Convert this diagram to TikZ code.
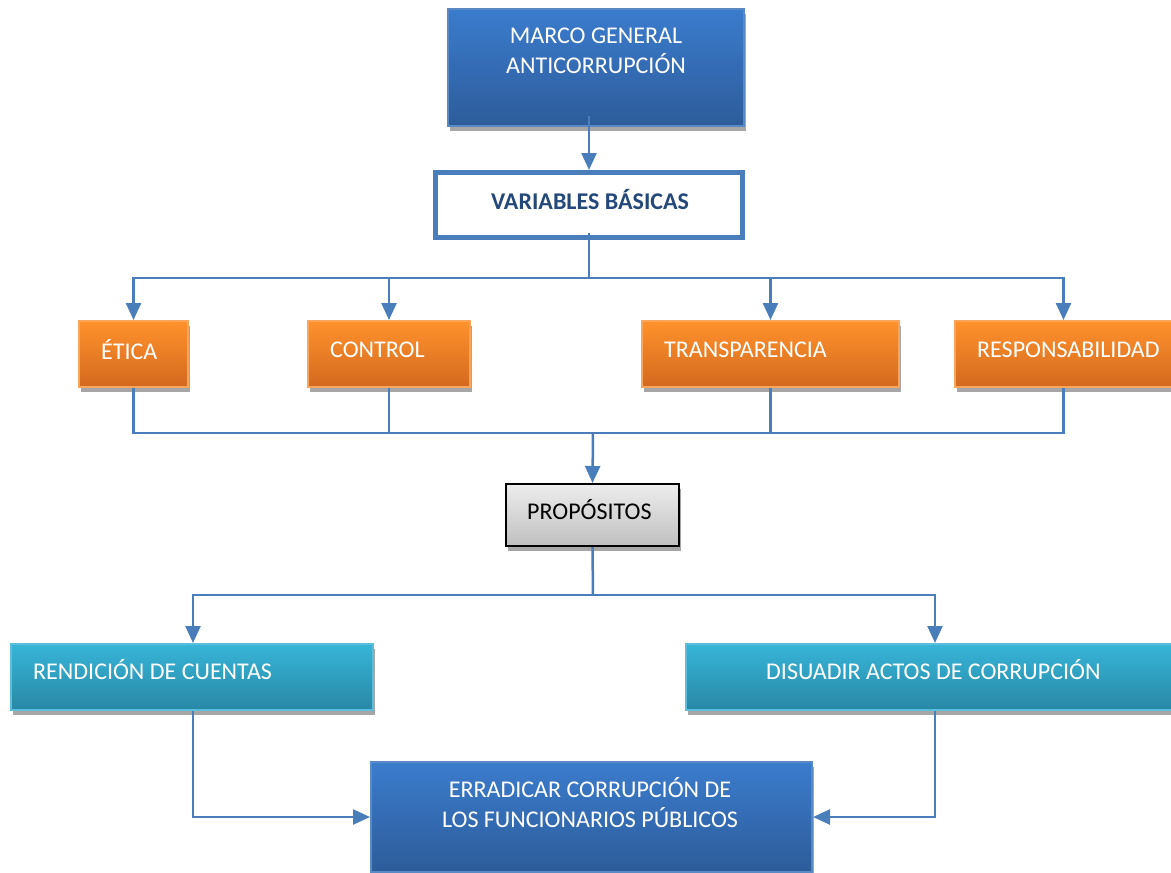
\documentclass[tikz,border=0pt]{standalone}
\usepackage{fontspec}
\setmainfont{Carlito}
\usetikzlibrary{arrows.meta,positioning,shadows}
\definecolor{linea}{HTML}{4A7EBB}
\definecolor{azularriba}{HTML}{3B7CCD}
\definecolor{azulabajo}{HTML}{2D5C9A}
\definecolor{azulborde}{HTML}{5A8AC6}
\definecolor{naranjaarriba}{HTML}{FF922C}
\definecolor{naranjaabajo}{HTML}{D3691F}
\definecolor{naranjaborde}{HTML}{F9A65C}
\definecolor{cianarriba}{HTML}{37B5D8}
\definecolor{cianabajo}{HTML}{2888A5}
\definecolor{cianborde}{HTML}{5BBFDB}
\definecolor{titulo}{HTML}{24487A}
\tikzset{
  caja/.style={rectangle, inner sep=0pt, line width=2pt,
    drop shadow={shadow xshift=1.5pt, shadow yshift=-5pt, fill=black!35, opacity=1}},
  azul/.style={caja, draw=azulborde, top color=azularriba, bottom color=azulabajo},
  naranja/.style={caja, draw=naranjaborde, top color=naranjaarriba, bottom color=naranjaabajo, minimum height=66},
  cian/.style={caja, draw=cianborde, top color=cianarriba, bottom color=cianabajo, minimum height=66},
  gris/.style={caja, draw=black, top color=black!7, bottom color=black!25, minimum height=62},
  texto/.style={inner sep=0pt, font=\fontsize{24}{30}\selectfont, text=white, align=center},
  conector/.style={draw=linea, line width=2.5pt},
  flecha/.style={conector, -{Triangle[width=15pt,length=17pt]}},
}
\begin{document}
\begin{tikzpicture}[x=1pt,y=-1pt]
  \useasboundingbox (0,0) rectangle (1171,873);
  % cajas
  \node[azul, minimum width=296, minimum height=117] (marco) at (596,67.5) {};
  \node[rectangle, draw=linea, line width=5pt, fill=white, minimum width=307, minimum height=65] (variables) at (589,205) {};
  \node[naranja, minimum width=109] (etica) at (133.5,354) {};
  \node[naranja, minimum width=162] (control) at (389,354) {};
  \node[naranja, minimum width=257] (transp) at (770.5,354) {};
  \node[naranja, minimum width=217] (resp) at (1063.5,354) {};
  \node[gris, minimum width=173] (propos) at (592.5,515) {};
  \node[cian, minimum width=362] (rendic) at (192,677) {};
  \node[cian, minimum width=486] (disuad) at (929,677) {};
  \node[azul, minimum width=441, minimum height=110] (errad) at (591.5,817) {};
  % textos
  \node[texto] (tmarco) at (596,51) {MARCO GENERAL\\ANTICORRUPCIÓN};
  \node[texto, text=titulo, font=\fontsize{24}{30}\selectfont\bfseries] (tvariables) at (590,200) {VARIABLES BÁSICAS};
  \node[texto, anchor=west] (tetica) at (101,350) {ÉTICA};
  \node[texto, anchor=west] (tcontrol) at (330,350) {CONTROL};
  \node[texto, anchor=west] (ttransp) at (664,350) {TRANSPARENCIA};
  \node[texto, anchor=west] (tresp) at (977,350) {RESPONSABILIDAD};
  \node[texto, anchor=west, text=black] (tpropos) at (527,510) {PROPÓSITOS};
  \node[texto, anchor=west] (trendic) at (33,670) {RENDICIÓN DE CUENTAS};
  \node[texto, anchor=west] (tdisuad) at (766,670) {DISUADIR ACTOS DE CORRUPCIÓN};
  \node[texto] (terrad) at (590,803) {ERRADICAR CORRUPCIÓN DE\\LOS FUNCIONARIOS PÚBLICOS};
  % uniones
  \coordinate (bus1) at (589,278);
  \coordinate (bus2) at (593,433);
  \coordinate (bus3) at (593,595);
  \draw[flecha] ([yshift=11pt]variables.north |- marco.south) -- (variables.north);
  \draw[conector] ([yshift=7pt]variables.south) -- (bus1);
  \foreach \n in {etica,control,transp,resp}
    \draw[flecha] (bus1) -| (\n.north);
  \foreach \n in {etica,control,transp,resp}
    \draw[conector] (\n.south) |- (bus2);
  \draw[flecha] (bus2) -- (propos.north);
  \draw[conector] (propos.south) -- (bus3);
  \draw[flecha] (bus3) -| ([xshift=1pt]rendic.north);
  \draw[flecha] (bus3) -| ([xshift=6pt]disuad.north);
  \draw[flecha] ([xshift=1pt]rendic.south) |- (errad.west);
  \draw[flecha] ([xshift=6pt]disuad.south) |- (errad.east);
\end{tikzpicture}
\end{document}
